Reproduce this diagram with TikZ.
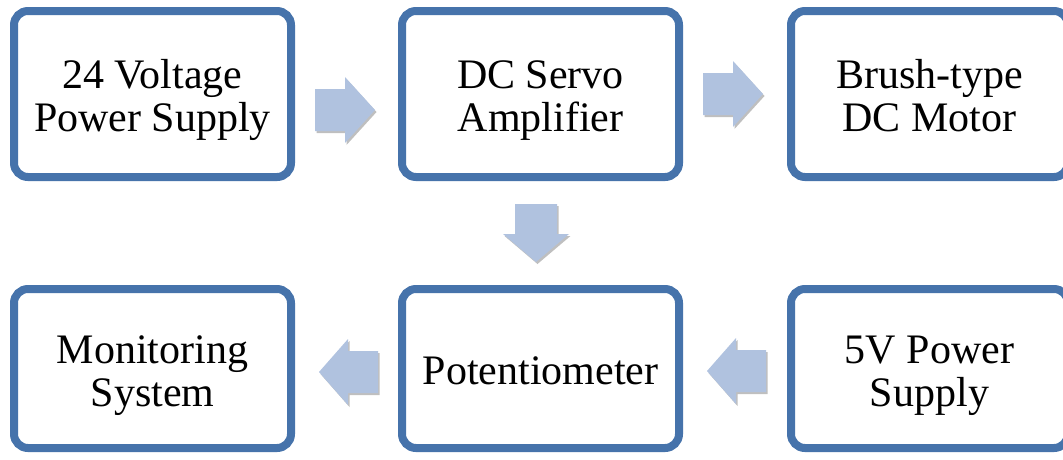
\documentclass[tikz,border=0pt]{standalone}
\usepackage{fontspec}
\setmainfont{Liberation Serif}
\usetikzlibrary{shadows}
\definecolor{boxblue}{HTML}{4673AB}
\definecolor{arrowblue}{HTML}{B0C2DF}
\newcommand\bxline[1]{\smash{#1}\rule[-4pt]{0pt}{40pt}}
\tikzset{
  blk/.style={draw=boxblue, line width=8pt, rounded corners=14pt, fill=white,
    align=center, inner sep=0pt, font=\fontsize{42pt}{43pt}\selectfont,
    drop shadow={shadow xshift=1.5pt, shadow yshift=-2.5pt, opacity=0.3, fill=black}},
  toprow/.style={blk, minimum width=277pt, minimum height=166pt},
  botrow/.style={blk, minimum width=277pt, minimum height=159pt},
  blockarrow/.style={fill=arrowblue, draw=none,
    drop shadow={shadow xshift=1.5pt, shadow yshift=-2pt, opacity=0.25, fill=black}},
}
\newcommand\myblockarrow[3]{%
  \path[blockarrow, shift={(#1)}, rotate=#2]
    (0,-21) -- (30,-21) -- (30,-33) -- (#3,0) -- (30,33) -- (30,21) -- (0,21) -- cycle;}
\begin{document}
\begin{tikzpicture}[x=1pt, y=-1pt]
\useasboundingbox (0,0) rectangle (1063,459);
\node[toprow] (psu24) at (152.5,94) {\bxline{24 Voltage}\\\bxline{Power Supply}};
\node[toprow] (amp) at (540.5,94) {\bxline{DC Servo}\\\bxline{Amplifier}};
\node[toprow] (motor) at (929.5,94) {\bxline{Brush-type}\\\bxline{DC Motor}};
\node[botrow] (mon) at (152.5,368.5) {\bxline{Monitoring}\\\bxline{System}};
\node[botrow] (pot) at (540.5,368.5) {\bxline{Potentiometer}};
\node[botrow] (psu5) at (929.5,368.5) {\bxline{5V Power}\\\bxline{Supply}};
\coordinate (a1) at (315,110);
\coordinate (a2) at (703,94);
\coordinate (a3) at (536,204);
\coordinate (a4) at (378,372);
\coordinate (a5) at (766,371);
\myblockarrow{a1}{0}{60}
\myblockarrow{a2}{0}{60}
\myblockarrow{a3}{-90}{58}
\myblockarrow{a4}{180}{59}
\myblockarrow{a5}{180}{59}
\end{tikzpicture}
\end{document}
